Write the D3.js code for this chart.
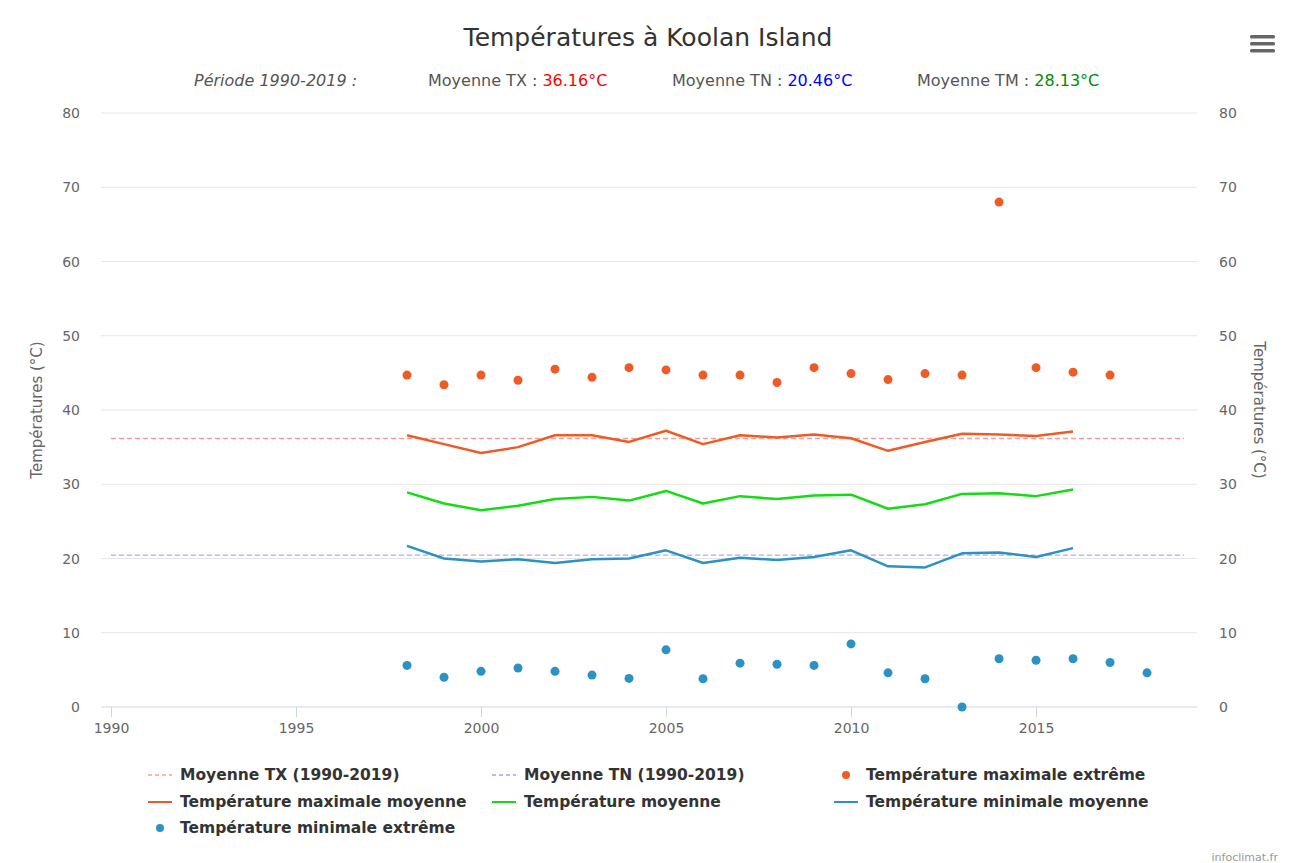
<!DOCTYPE html>
<html>
<head>
<meta charset="utf-8">
<script src="https://cdn.jsdelivr.net/npm/d3@7"></script>
<style>
  body { margin: 0; background: #fff; }
  svg { display: block; font-family: "DejaVu Sans", sans-serif; }
</style>
</head>
<body>
<svg width="1293" height="863"></svg>
<script>
// yearly values
var years = [1998, 1999, 2000, 2001, 2002, 2003, 2004, 2005, 2006, 2007, 2008, 2009, 2010, 2011, 2012, 2013, 2014, 2015, 2016, 2017, 2018];
var txExtreme = [44.7, 43.4, 44.7, 44.0, 45.5, 44.4, 45.7, 45.4, 44.7, 44.7, 43.7, 45.7, 44.9, 44.1, 44.9, 44.7, 68.0, 45.7, 45.1, 44.7, null];
var txMean = [36.6, 35.4, 34.2, 35.0, 36.6, 36.6, 35.7, 37.2, 35.4, 36.6, 36.3, 36.7, 36.2, 34.5, 35.7, 36.8, 36.7, 36.5, 37.1, null, null];
var tmMean = [28.9, 27.4, 26.5, 27.1, 28.0, 28.3, 27.8, 29.1, 27.4, 28.4, 28.0, 28.5, 28.6, 26.7, 27.3, 28.7, 28.8, 28.4, 29.3, null, null];
var tnMean = [21.7, 20.0, 19.6, 19.9, 19.4, 19.9, 20.0, 21.1, 19.4, 20.1, 19.8, 20.2, 21.1, 18.95, 18.8, 20.7, 20.8, 20.2, 21.4, null, null];
var tnExtreme = [5.6, 4.0, 4.8, 5.25, 4.8, 4.3, 3.85, 7.7, 3.8, 5.9, 5.75, 5.6, 8.5, 4.6, 3.8, 0.0, 6.5, 6.3, 6.5, 6.0, 4.6];
var periodAvg = { tx: 36.16, tn: 20.46, tm: 28.13 };
var periodYears = [1990, 2019];
var yTicks = [0, 10, 20, 30, 40, 50, 60, 70, 80];
var xTicks = [1990, 1995, 2000, 2005, 2010, 2015];

var cOrange = "#ef5b25", cGreen = "#11dd11", cBlue = "#2b92c3";

var svg = d3.select("svg");
var plotLeft = 101, plotRight = 1197, plotTop = 113, plotBottom = 707;

var x = d3.scaleLinear().domain([1989.73, 2019.35]).range([plotLeft, plotRight]);
var y = d3.scaleLinear().domain([0, 80]).range([plotBottom, plotTop]);

// title + subtitle
svg.append("text").attr("x", 648).attr("y", 46).attr("text-anchor", "middle")
  .attr("font-size", 25).attr("fill", "#333").text("Températures à Koolan Island");

var sub = svg.append("g").attr("font-size", 16).attr("fill", "#555");
sub.append("text").attr("x", 194).attr("y", 86).attr("font-style", "italic").text("Période 1990-2019 :");
[[428, "Moyenne TX : ", periodAvg.tx, "#ff0000"],
 [672, "Moyenne TN : ", periodAvg.tn, "#0000ff"],
 [917, "Moyenne TM : ", periodAvg.tm, "#008c00"]].forEach(function(s) {
  var t = sub.append("text").attr("x", s[0]).attr("y", 86);
  t.append("tspan").text(s[1]);
  t.append("tspan").attr("fill", s[3]).text(s[2].toFixed(2) + "°C");
});

// hamburger menu
[0, 7, 14].forEach(function(dy) {
  svg.append("rect").attr("x", 1250).attr("y", 35 + dy).attr("width", 25).attr("height", 3.5)
    .attr("rx", 1.5).attr("fill", "#666");
});

// grid
svg.append("g").selectAll("line").data(yTicks.slice(1)).enter().append("line")
  .attr("x1", plotLeft).attr("x2", plotRight)
  .attr("y1", function(d) { return y(d); }).attr("y2", function(d) { return y(d); })
  .attr("stroke", "#e6e6e6");

// y labels, both sides
var yl = svg.append("g").attr("font-size", 14).attr("fill", "#666");
yl.selectAll(".l").data(yTicks).enter().append("text")
  .attr("x", 80).attr("y", function(d) { return y(d) + 5; }).attr("text-anchor", "end").text(function(d) { return d; });
yl.selectAll(".r").data(yTicks).enter().append("text")
  .attr("x", 1219).attr("y", function(d) { return y(d) + 5; }).text(function(d) { return d; });

svg.append("text").attr("transform", "translate(42," + ((plotTop + plotBottom) / 2) + ") rotate(-90)")
  .attr("text-anchor", "middle").attr("font-size", 15).attr("fill", "#666").text("Températures (°C)");
svg.append("text").attr("transform", "translate(1254," + ((plotTop + plotBottom) / 2) + ") rotate(90)")
  .attr("text-anchor", "middle").attr("font-size", 15).attr("fill", "#666").text("Températures (°C)");

// x axis
var xAxis = svg.append("g").attr("transform", "translate(0," + plotBottom + ")")
  .call(d3.axisBottom(x).tickValues(xTicks).tickFormat(d3.format("d")).tickSize(10).tickPadding(6));
xAxis.select(".domain").attr("stroke", "#ccd6eb").attr("d", "M" + plotLeft + ",0H" + plotRight);
xAxis.selectAll(".tick line").attr("stroke", "#ccd6eb");
xAxis.selectAll(".tick text").attr("fill", "#666").attr("font-size", 14)
  .attr("font-family", "DejaVu Sans, sans-serif");

// period means (dashed)
svg.append("line").attr("x1", x(periodYears[0])).attr("x2", x(periodYears[1]))
  .attr("y1", y(periodAvg.tx)).attr("y2", y(periodAvg.tx))
  .attr("stroke", "#ff9a9a").attr("stroke-width", 1.3).attr("stroke-dasharray", "5,3");
svg.append("line").attr("x1", x(periodYears[0])).attr("x2", x(periodYears[1]))
  .attr("y1", y(periodAvg.tn)).attr("y2", y(periodAvg.tn))
  .attr("stroke", "#a8a8ff").attr("stroke-width", 1.3).attr("stroke-dasharray", "5,3");

var line = d3.line()
  .defined(function(d) { return d[1] != null; })
  .x(function(d) { return x(d[0]); })
  .y(function(d) { return y(d[1]); });

function pairs(vals) {
  return years.map(function(yr, i) { return [yr, vals[i]]; });
}

[[txMean, cOrange], [tmMean, cGreen], [tnMean, cBlue]].forEach(function(s) {
  svg.append("path").datum(pairs(s[0])).attr("d", line)
    .attr("fill", "none").attr("stroke", s[1]).attr("stroke-width", 2.5).attr("stroke-linejoin", "round");
});

[[txExtreme, cOrange], [tnExtreme, cBlue]].forEach(function(s) {
  svg.append("g").selectAll("circle")
    .data(pairs(s[0]).filter(function(d) { return d[1] != null; }))
    .enter().append("circle")
      .attr("cx", function(d) { return x(d[0]); })
      .attr("cy", function(d) { return y(d[1]); })
      .attr("r", 4.5).attr("fill", s[1]);
});

// legend
var legendItems = [
  { name: "Moyenne TX (1990-2019)", type: "dash", color: "#ffb3b3" },
  { name: "Moyenne TN (1990-2019)", type: "dash", color: "#b8b8ff" },
  { name: "Température maximale extrême", type: "dot", color: cOrange },
  { name: "Température maximale moyenne", type: "line", color: cOrange },
  { name: "Température moyenne", type: "line", color: cGreen },
  { name: "Température minimale moyenne", type: "line", color: cBlue },
  { name: "Température minimale extrême", type: "dot", color: cBlue }
];
var colX = [148, 492, 834], rowY = [775, 802, 828];
var lg = svg.append("g").selectAll("g").data(legendItems).enter().append("g")
  .attr("transform", function(d, i) { return "translate(" + colX[i % 3] + "," + rowY[Math.floor(i / 3)] + ")"; });
lg.each(function(d) {
  var g = d3.select(this);
  if (d.type == "dot") {
    g.append("circle").attr("cx", 12).attr("cy", 0).attr("r", 4).attr("fill", d.color);
  } else {
    g.append("line").attr("x1", 0).attr("x2", 24).attr("y1", 0).attr("y2", 0)
      .attr("stroke", d.color).attr("stroke-width", 2)
      .attr("stroke-dasharray", d.type == "dash" ? "4,3" : null);
  }
});
lg.append("text").attr("x", 32).attr("y", 5).attr("font-size", 15.5).attr("font-weight", "bold")
  .attr("fill", "#333").text(function(d) { return d.name; });

svg.append("text").attr("x", 1278).attr("y", 861).attr("text-anchor", "end")
  .attr("font-size", 11).attr("fill", "#999").text("infoclimat.fr");
</script>
</body>
</html>
